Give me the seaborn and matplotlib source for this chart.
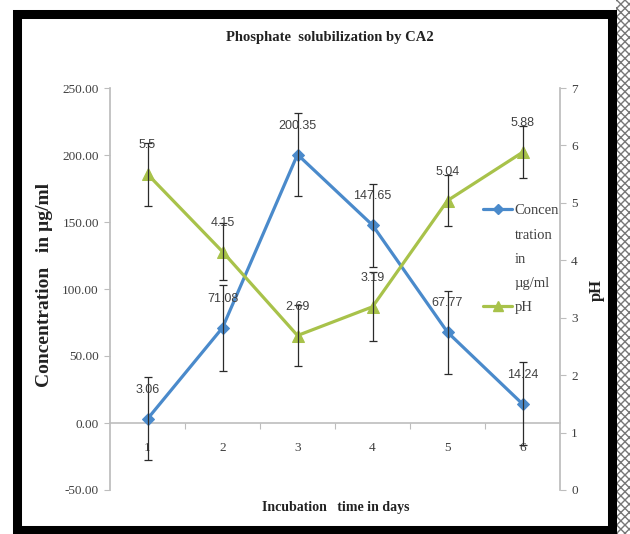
import numpy as np
import pandas as pd
import matplotlib
matplotlib.use("Agg")
import matplotlib.pyplot as plt
import seaborn as sns
from matplotlib.lines import Line2D
from matplotlib.patches import Rectangle
from matplotlib.ticker import FixedLocator, FormatStrFormatter

# data
days = [1, 2, 3, 4, 5, 6]
concentration = [3.06, 71.08, 200.35, 147.65, 67.77, 14.24]
conc_err = [31, 32, 31, 31, 31, 31]
ph = [5.5, 4.15, 2.69, 3.19, 5.04, 5.88]
ph_err = [0.55, 0.5, 0.53, 0.6, 0.45, 0.45]
conc_labels = ["3.06", "71.08", "200.35", "147.65", "67.77", "14.24"]
ph_labels = ["5.5", "4.15", "2.69", "3.19", "5.04", "5.88"]
left_ticks = [-50, 0, 50, 100, 150, 200, 250]
right_ticks = [0, 1, 2, 3, 4, 5, 6, 7]
legend_lines = ["Concen", "tration", "in", "µg/ml", "pH"]

BLUE = "#4A8ACB"
GREEN = "#A8C24A"
GRAY_AX = "#BDBDBD"
TXT = "#404040"

sns.set_theme(style="white")
plt.rcParams["font.family"] = ["Liberation Serif", "DejaVu Serif"]

df = pd.DataFrame({"Day": days, "Concentration": concentration, "pH": ph})

fig = plt.figure(figsize=(6.3, 5.34), dpi=100)
ax = fig.add_axes([110 / 630, 1 - 490 / 534, 450 / 630, 402 / 534])
ax2 = ax.twinx()

# concentration series (primary axis)
sns.lineplot(data=df, x="Day", y="Concentration", ax=ax, color=BLUE,
             marker="D", markersize=6, markeredgecolor=BLUE, linewidth=2.3,
             legend=False, zorder=3)
ax.errorbar(days, concentration, yerr=conc_err, fmt="none", ecolor="#2b2b2b",
            elinewidth=0.9, capsize=3, capthick=0.9, zorder=4)

# pH series (secondary axis)
sns.lineplot(data=df, x="Day", y="pH", ax=ax2, color=GREEN,
             marker="^", markersize=8, markeredgecolor=GREEN, linewidth=2.3,
             legend=False, zorder=3)
ax2.errorbar(days, ph, yerr=ph_err, fmt="none", ecolor="#2b2b2b",
             elinewidth=0.9, capsize=3, capthick=0.9, zorder=4)

# data labels
for d, v, t in zip(days, concentration, conc_labels):
    ax.annotate(t, (d, v), xytext=(0, 29), textcoords="offset pixels",
                ha="center", va="center", fontsize=9, color=TXT,
                family=["Liberation Sans", "DejaVu Sans"], zorder=5)
for d, v, t in zip(days, ph, ph_labels):
    ax2.annotate(t, (d, v), xytext=(0, 29), textcoords="offset pixels",
                 ha="center", va="center", fontsize=9, color=TXT,
                 family=["Liberation Sans", "DejaVu Sans"], zorder=5)

# axes formatting
ax.set_xlim(0.5, 6.5)
ax.set_ylim(-50, 250)
ax2.set_ylim(0, 7)
ax.set_yticks(left_ticks)
ax.yaxis.set_major_formatter(FormatStrFormatter("%.2f"))
ax2.set_yticks(right_ticks)

for a in (ax, ax2):
    for s in a.spines.values():
        s.set_visible(False)
ax.spines["left"].set_visible(True)
ax.spines["left"].set_color(GRAY_AX)
ax2.spines["right"].set_visible(True)
ax2.spines["right"].set_color(GRAY_AX)
ax.spines["bottom"].set_visible(True)
ax.spines["bottom"].set_color(GRAY_AX)
ax.spines["bottom"].set_linewidth(1.2)
ax.spines["bottom"].set_position(("data", 0))

ax.set_xticks(days)
ax.xaxis.set_minor_locator(FixedLocator([1.5, 2.5, 3.5, 4.5, 5.5]))
ax.tick_params(axis="x", which="major", length=0, pad=14, labelsize=9.5,
               labelcolor=TXT)
ax.tick_params(axis="x", which="minor", length=4, width=0.8, color=GRAY_AX,
               direction="out", bottom=True)
ax.tick_params(axis="y", length=4, width=0.8, color=GRAY_AX, left=True,
               labelsize=9.5, labelcolor=TXT, pad=4)
ax2.tick_params(axis="y", length=4, width=0.8, color=GRAY_AX, right=True,
                labelsize=9.5, labelcolor=TXT, pad=4)
ax.set_xlabel("")
ax.set_ylabel("")
ax2.set_ylabel("")
ax.grid(False)
ax2.grid(False)

# titles
fig.text(330 / 630, 1 - 38 / 534, "Phosphate  solubilization by CA2",
         ha="center", va="center", fontsize=10.5, fontweight="bold",
         color="#222222")
fig.text(336 / 630, 1 - 507 / 534, "Incubation   time in days",
         ha="center", va="center", fontsize=10, fontweight="bold",
         color="#222222")
fig.text(45 / 630, 1 - 285 / 534, "Concentration   in µg/ml", rotation=90,
         ha="center", va="center", fontsize=14, fontweight="bold",
         color="#222222")
fig.text(597 / 630, 1 - 290 / 534, "pH", rotation=90,
         ha="center", va="center", fontsize=12, fontweight="bold",
         color="#222222")

# legend on the right side of the plot area (label wraps like Excel)
blank = Line2D([], [], linestyle="none", marker="none")
handles = [
    Line2D([], [], color=BLUE, marker="D", markersize=5, linewidth=2.3),
    blank, blank, blank,
    Line2D([], [], color=GREEN, marker="^", markersize=7, linewidth=2.3),
]
leg = ax2.legend(handles, legend_lines, loc="upper left",
                 bbox_to_anchor=(470 / 630, 1 - 191 / 534),
                 bbox_transform=fig.transFigure, frameon=False,
                 handlelength=2.0, handletextpad=0.15, labelspacing=0.76,
                 prop={"family": "Liberation Serif", "size": 10.5})
for t in leg.get_texts():
    t.set_color(TXT)

# picture frame
fig.add_artist(Rectangle((616 / 630, 0), 14 / 630, 1, transform=fig.transFigure,
                         facecolor="white", edgecolor="#777777", hatch="xxxx",
                         linewidth=0))
fig.add_artist(Rectangle((16.5 / 630, 4 / 534), 595.5 / 630, 516.5 / 534,
                         transform=fig.transFigure, fill=False,
                         edgecolor="black", linewidth=6.5))

fig.savefig("out.png", dpi=100, facecolor="white")
